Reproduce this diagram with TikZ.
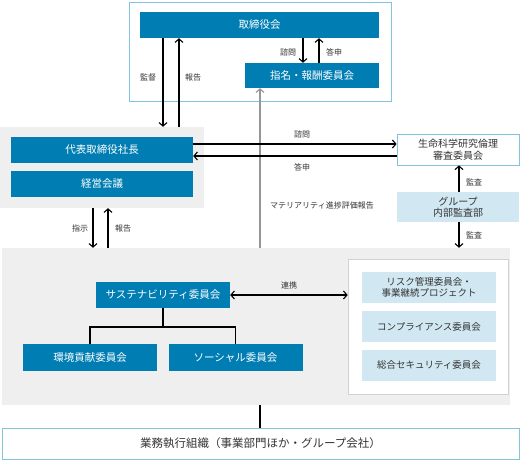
\documentclass[tikz,border=0pt]{standalone}
\usepackage{fontspec}
\setmainfont{Noto Sans CJK JP}
\usetikzlibrary{arrows.meta}
\definecolor{cblue}{RGB}{0,126,180}
\definecolor{clight}{RGB}{209,232,242}
\definecolor{cgray}{RGB}{239,239,239}
\definecolor{cframe}{RGB}{130,196,222}
\definecolor{cinner}{RGB}{210,210,210}
\definecolor{ctext}{RGB}{51,51,51}
\definecolor{cline}{RGB}{150,150,150}
\tikzset{
  bluebox/.style={fill=cblue,text=white,inner sep=0,font=\fontsize{10.5}{12}\selectfont},
  lightbox/.style={fill=clight,text=ctext,inner sep=0,align=center,font=\fontsize{10}{11.5}\selectfont},
  whitebox/.style={fill=white,draw=cframe,line width=0.8pt,text=ctext,inner sep=0,align=center,font=\fontsize{10}{11.5}\selectfont},
  graybg/.style={fill=cgray,inner sep=0},
  lbl/.style={text=ctext,inner sep=0,font=\fontsize{8}{9}\selectfont},
  arr/.style={line width=1.1pt,-{Straight Barb[length=3.5pt,width=8pt,line width=1.1pt]}},
  darr/.style={line width=1.1pt,{Straight Barb[length=3.5pt,width=8pt,line width=1.1pt]}-{Straight Barb[length=3.5pt,width=8pt,line width=1.1pt]}},
  plain/.style={line width=1.1pt},
}
\begin{document}
\begin{tikzpicture}[x=1pt,y=-1pt]
\useasboundingbox (0,0) rectangle (520,460);
% backgrounds
\node[draw=cframe,line width=0.8pt,fill=white,minimum width=262,minimum height=99,inner sep=0] (topframe) at (260,51.5) {};
\node[graybg,minimum width=204,minimum height=81] (gray1) at (102,167.5) {};
\node[graybg,minimum width=508,minimum height=157] (gray2) at (256,326.5) {};
\node[fill=white,draw=cinner,line width=0.6pt,minimum width=160,minimum height=135,inner sep=0] (inner) at (428,326.5) {};
% boxes
\node[bluebox,minimum width=239,minimum height=26] (board) at (259.5,25) {取締役会};
\node[bluebox,minimum width=134,minimum height=25] (nom) at (312,75.5) {指名・報酬委員会};
\node[bluebox,minimum width=182,minimum height=26] (ceo) at (102,150) {代表取締役社長};
\node[bluebox,minimum width=182,minimum height=26] (mgmt) at (102,184) {経営会議};
\node[whitebox,minimum width=122,minimum height=31] (ethics) at (458,149.5) {生命科学研究倫理\\審査委員会};
\node[lightbox,minimum width=122,minimum height=30] (audit) at (458,207) {グループ\\内部監査部};
\node[lightbox,minimum width=134,minimum height=31,font=\fontsize{9.5}{11}\selectfont] (risk) at (429,287.5) {リスク管理委員会・\\事業継続プロジェクト};
\node[lightbox,minimum width=134,minimum height=31,font=\fontsize{9.5}{11}\selectfont] (comp) at (429,326.5) {コンプライアンス委員会};
\node[lightbox,minimum width=134,minimum height=31,font=\fontsize{9.5}{11}\selectfont] (sec) at (429,365) {総合セキュリティ委員会};
\node[bluebox,minimum width=134,minimum height=26] (sust) at (163,295) {サステナビリティ委員会};
\node[bluebox,minimum width=134,minimum height=27] (env) at (90,357.5) {環境貢献委員会};
\node[bluebox,minimum width=134,minimum height=27] (soc) at (235.5,357.5) {ソーシャル委員会};
\node[whitebox,minimum width=517,minimum height=31,font=\fontsize{11.5}{13}\selectfont] (exec) at (260.5,443.5) {業務執行組織（事業部門ほか・グループ会社）};
% helper coordinates
\coordinate (x93) at (93,0);
\coordinate (x108) at (108,0);
\coordinate (x163) at (163,0);
\coordinate (x179) at (179,0);
\coordinate (x260) at (260,0);
\coordinate (x303) at (303,0);
\coordinate (x319) at (319,0);
\coordinate (x459) at (459,0);
\coordinate (y144) at (0,144);
\coordinate (y156) at (0,156);
\coordinate (ytree) at (0,327);
% connectors
\draw[arr,draw=cline] (gray2.north -| x260) -- (nom.south -| x260);
\draw[arr] (board.south -| x163) -- (gray1.north -| x163);
\draw[arr] (gray1.north -| x179) -- (board.south -| x179);
\draw[arr] (board.south -| x303) -- (nom.north -| x303);
\draw[arr] (nom.north -| x319) -- (board.south -| x319);
\draw[arr] (ceo.east |- y144) -- (ethics.west |- y144);
\draw[arr] (ethics.west |- y156) -- (ceo.east |- y156);
\draw[arr] (audit.north -| x459) -- (ethics.south -| x459);
\draw[arr] (audit.south -| x459) -- (gray2.north -| x459);
\draw[arr] (gray1.south -| x93) -- (gray2.north -| x93);
\draw[arr] (gray2.north -| x108) -- (gray1.south -| x108);
\draw[darr] (sust.east) -- (inner.west |- sust.east);
\draw[plain] (sust.south) -- (sust.south |- ytree) -| (env.north);
\draw[plain] (sust.south |- ytree) -| (soc.north);
\draw[plain] (gray2.south -| x260) -- (exec.north -| x260);
% labels
\node[lbl] (l1) at (148,77) {監督};
\node[lbl] (l2) at (193,77) {報告};
\node[lbl] (l3) at (288,52) {諮問};
\node[lbl] (l4) at (334,52) {答申};
\node[lbl] (l5) at (302,134) {諮問};
\node[lbl] (l6) at (302,167) {答申};
\node[lbl] (l7) at (474,182) {監査};
\node[lbl] (l8) at (474,235) {監査};
\node[lbl] (l9) at (322,205) {マテリアリティ進捗評価報告};
\node[lbl] (l10) at (80,228) {指示};
\node[lbl] (l11) at (123,228) {報告};
\node[lbl] (l12) at (289,285) {連携};
\end{tikzpicture}
\end{document}
